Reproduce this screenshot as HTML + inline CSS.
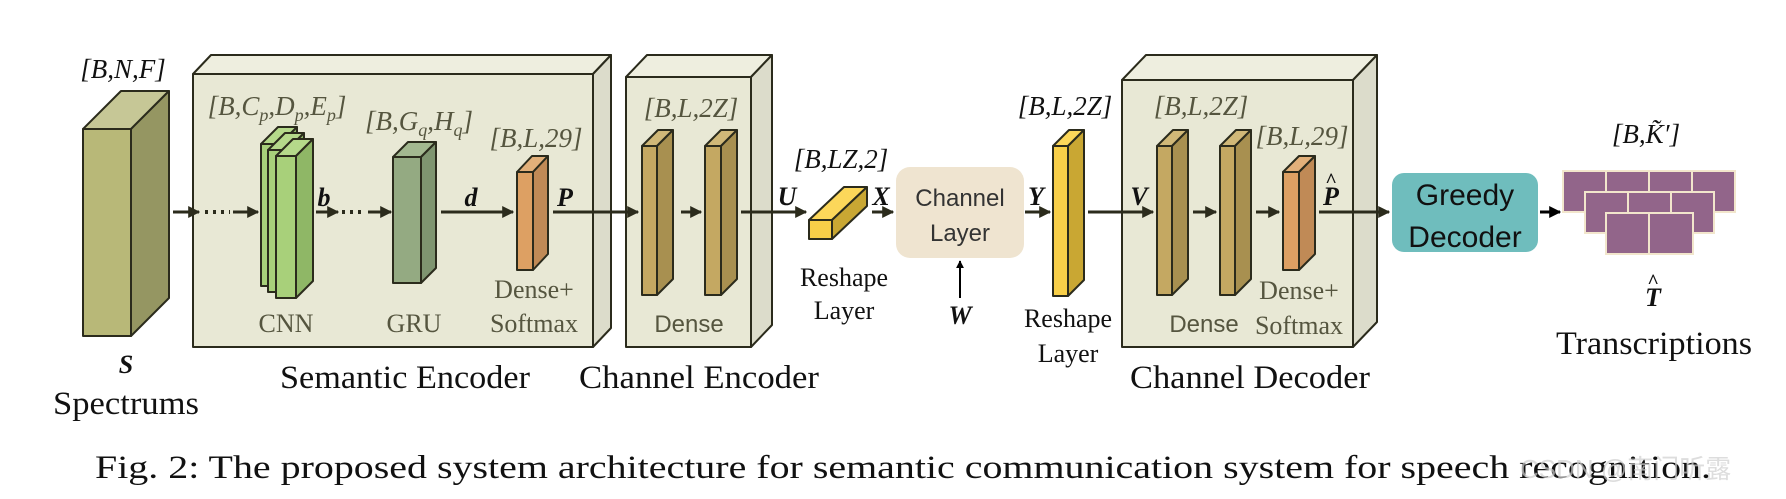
<!DOCTYPE html>
<html><head><meta charset="utf-8"><style>
html,body{margin:0;padding:0;background:#fff;}
svg{display:block;}
.s{font-family:"Liberation Serif",serif;}
.ss{font-family:"Liberation Sans",sans-serif;}
</style></head><body>
<svg width="1786" height="499" viewBox="0 0 1786 499" xmlns="http://www.w3.org/2000/svg">
<defs>
<marker id="ah" viewBox="0 0 10 10" refX="9" refY="5" markerWidth="4" markerHeight="4" orient="auto" markerUnits="strokeWidth"><path d="M0,0 L10,5 L0,10 z" fill="#2b2b1c"/></marker>
<marker id="ahk" viewBox="0 0 10 10" refX="9" refY="5" markerWidth="4" markerHeight="4" orient="auto" markerUnits="strokeWidth"><path d="M0,0 L10,5 L0,10 z" fill="#000"/></marker>
</defs>
<g stroke="#2b2b1c" stroke-width="2" stroke-linejoin="round">
<polygon points="83,129 121,91 169,91 131,129" fill="#c6c796"/>
<polygon points="131,129 169,91 169,298 131,336" fill="#959662"/>
<rect x="83" y="129" width="48" height="207" fill="#b8b878"/>
<polygon points="193,74 211,55 611,55 593,74" fill="#eeeedf"/>
<polygon points="593,74 611,55 611,328 593,347" fill="#dcdccb"/>
<rect x="193" y="74" width="400" height="273" fill="#e8e8d5"/>
<polygon points="626,77 647,55 772,55 751,77" fill="#eeeedf"/>
<polygon points="751,77 772,55 772,325 751,347" fill="#dcdccb"/>
<rect x="626" y="77" width="125" height="270" fill="#e8e8d5"/>
<polygon points="1122,80 1146,55 1377,55 1353,80" fill="#eeeedf"/>
<polygon points="1353,80 1377,55 1377,322 1353,347" fill="#dcdccb"/>
<rect x="1122" y="80" width="231" height="267" fill="#e8e8d5"/>
<polygon points="261,144 278,127 297,127 280,144" fill="#b5d98a"/>
<polygon points="280,144 297,127 297,269 280,286" fill="#8fb766"/>
<rect x="261" y="144" width="19" height="142" fill="#a8d07a"/>
<polygon points="268,150 285,133 304,133 287,150" fill="#b5d98a"/>
<polygon points="287,150 304,133 304,275 287,292" fill="#8fb766"/>
<rect x="268" y="150" width="19" height="142" fill="#a8d07a"/>
<polygon points="276,156 293,139 313,139 296,156" fill="#b5d98a"/>
<polygon points="296,156 313,139 313,281 296,298" fill="#8fb766"/>
<rect x="276" y="156" width="20" height="142" fill="#a8d07a"/>
<polygon points="393,157 408,142 436,142 421,157" fill="#a3b890"/>
<polygon points="421,157 436,142 436,268 421,283" fill="#7f9570"/>
<rect x="393" y="157" width="28" height="126" fill="#94aa82"/>
<polygon points="517,172 532,156 548,156 533,172" fill="#e2b07a"/>
<polygon points="533,172 548,156 548,254 533,270" fill="#c08a56"/>
<rect x="517" y="172" width="16" height="98" fill="#dda063"/>
<polygon points="642,146 658,130 673,130 657,146" fill="#d0b878"/>
<polygon points="657,146 673,130 673,279 657,295" fill="#a89050"/>
<rect x="642" y="146" width="15" height="149" fill="#c4a862"/>
<polygon points="705,146 721,130 737,130 721,146" fill="#d0b878"/>
<polygon points="721,146 737,130 737,279 721,295" fill="#a89050"/>
<rect x="705" y="146" width="16" height="149" fill="#c4a862"/>
<polygon points="809,220 844,187 867,187 832,220" fill="#fcd75a"/>
<polygon points="832,220 867,187 867,206 832,239" fill="#c9a733"/>
<rect x="809" y="220" width="23" height="19" fill="#f8cf48"/>
<polygon points="1053,146 1069,130 1084,130 1068,146" fill="#fcd75a"/>
<polygon points="1068,146 1084,130 1084,280 1068,296" fill="#c9a733"/>
<rect x="1053" y="146" width="15" height="150" fill="#f8cf48"/>
<polygon points="1157,146 1173,130 1188,130 1172,146" fill="#d0b878"/>
<polygon points="1172,146 1188,130 1188,279 1172,295" fill="#a89050"/>
<rect x="1157" y="146" width="15" height="149" fill="#c4a862"/>
<polygon points="1220,146 1236,130 1251,130 1235,146" fill="#d0b878"/>
<polygon points="1235,146 1251,130 1251,279 1235,295" fill="#a89050"/>
<rect x="1220" y="146" width="15" height="149" fill="#c4a862"/>
<polygon points="1283,172 1299,156 1315,156 1299,172" fill="#e2b07a"/>
<polygon points="1299,172 1315,156 1315,254 1299,270" fill="#c08a56"/>
<rect x="1283" y="172" width="16" height="98" fill="#dda063"/>
</g>
<rect x="896" y="167" width="128" height="91" rx="14" fill="#efe4d0"/>
<rect x="1392" y="173" width="146" height="79" rx="12" fill="#6fbdbd"/>
<g fill="#92658a" stroke="#f2e6cc" stroke-width="2">
<rect x="1563" y="171" width="43" height="41"/><rect x="1606" y="171" width="43" height="41"/><rect x="1649" y="171" width="43" height="41"/><rect x="1692" y="171" width="43" height="41"/>
<rect x="1585" y="192" width="43" height="41"/><rect x="1628" y="192" width="43" height="41"/><rect x="1671" y="192" width="43" height="41"/>
<rect x="1606" y="213" width="43" height="41"/><rect x="1649" y="213" width="44" height="41"/>
</g>
<g stroke="#2b2b1c" stroke-width="3" fill="none">
<line x1="173" y1="212" x2="199" y2="212" marker-end="url(#ah)"/>
<line x1="205" y1="212" x2="230" y2="212" stroke-dasharray="3,5" stroke-width="4"/>
<line x1="233" y1="212" x2="258" y2="212" marker-end="url(#ah)"/>
<line x1="316" y1="212" x2="338" y2="212" marker-end="url(#ah)"/>
<line x1="342" y1="212" x2="366" y2="212" stroke-dasharray="3,5" stroke-width="4"/>
<line x1="368" y1="212" x2="391" y2="212" marker-end="url(#ah)"/>
<line x1="441" y1="212" x2="513" y2="212" marker-end="url(#ah)"/>
<line x1="553" y1="212" x2="638" y2="212" marker-end="url(#ah)"/>
<line x1="681" y1="212" x2="701" y2="212" marker-end="url(#ah)"/>
<line x1="741" y1="212" x2="806" y2="212" marker-end="url(#ah)"/>
<line x1="872" y1="212" x2="893" y2="212" marker-end="url(#ah)"/>
<line x1="1025" y1="212" x2="1050" y2="212" marker-end="url(#ah)"/>
<line x1="1088" y1="212" x2="1153" y2="212" marker-end="url(#ah)"/>
<line x1="1193" y1="212" x2="1216" y2="212" marker-end="url(#ah)"/>
<line x1="1256" y1="212" x2="1279" y2="212" marker-end="url(#ah)"/>
<line x1="1319" y1="212" x2="1389" y2="212" marker-end="url(#ah)"/>
<line x1="1540" y1="212" x2="1560" y2="212" marker-end="url(#ahk)" stroke="#000"/>
<line x1="960" y1="298" x2="960" y2="261" marker-end="url(#ahk)" stroke="#000" stroke-width="2"/>
</g>
<g class="s" font-style="italic" font-size="27" fill="#111" text-anchor="middle">
<text x="123" y="78">[B,N,F]</text>
<text x="1065" y="115">[B,L,2Z]</text>
<text x="841" y="168">[B,LZ,2]</text>
<text x="1646" y="143">[B,K̃′]</text>
</g>
<g class="s" font-style="italic" font-size="27" fill="#55553f" text-anchor="middle">
<text x="277" y="115">[B,C<tspan font-size="18" dy="6">p</tspan><tspan dy="-6">,D</tspan><tspan font-size="18" dy="6">p</tspan><tspan dy="-6">,E</tspan><tspan font-size="18" dy="6">p</tspan><tspan dy="-6">]</tspan></text>
<text x="419" y="130">[B,G<tspan font-size="18" dy="6">q</tspan><tspan dy="-6">,H</tspan><tspan font-size="18" dy="6">q</tspan><tspan dy="-6">]</tspan></text>
<text x="536" y="147">[B,L,29]</text>
<text x="691" y="117">[B,L,2Z]</text>
<text x="1201" y="115">[B,L,2Z]</text>
<text x="1302" y="145">[B,L,29]</text>
</g>
<g class="s" font-style="italic" font-weight="bold" font-size="26" fill="#111" text-anchor="middle">
<text x="126" y="373">S</text>
<text x="324" y="206">b</text>
<text x="471" y="206">d</text>
<text x="565" y="206">P</text>
<text x="787" y="205">U</text>
<text x="881" y="205">X</text>
<text x="1036" y="205">Y</text>
<text x="1139" y="205">V</text>
<text x="1331" y="205">P</text>
<text x="1331" y="187" font-size="20">^</text>
<text x="960" y="324">W</text>
<text x="1653" y="306">T</text>
<text x="1653" y="288" font-size="20">^</text>
</g>
<g class="s" font-size="26" fill="#55553f" text-anchor="middle">
<text x="286" y="332">CNN</text>
<text x="414" y="332">GRU</text>
<text x="534" y="298">Dense+</text>
<text x="534" y="332">Softmax</text>
<text x="1299" y="299">Dense+</text>
<text x="1299" y="334">Softmax</text>
</g>
<g class="ss" font-size="24" fill="#55553f" text-anchor="middle">
<text x="689" y="332">Dense</text>
<text x="1204" y="332">Dense</text>
</g>
<g class="ss" font-size="24" fill="#333" text-anchor="middle">
<text x="960" y="206">Channel</text>
<text x="960" y="241">Layer</text>
</g>
<g class="ss" font-size="30" fill="#111" text-anchor="middle">
<text x="1465" y="205">Greedy</text>
<text x="1465" y="247">Decoder</text>
</g>
<g class="s" font-size="26" fill="#111" text-anchor="middle">
<text x="844" y="286">Reshape</text>
<text x="844" y="319">Layer</text>
<text x="1068" y="327">Reshape</text>
<text x="1068" y="362">Layer</text>
</g>
<g class="s" font-size="33" fill="#111" text-anchor="middle">
<text x="405" y="388" textLength="250" lengthAdjust="spacingAndGlyphs">Semantic Encoder</text>
<text x="699" y="388" textLength="240" lengthAdjust="spacingAndGlyphs">Channel Encoder</text>
<text x="1250" y="388" textLength="240" lengthAdjust="spacingAndGlyphs">Channel Decoder</text>
<text x="126" y="414" textLength="146" lengthAdjust="spacingAndGlyphs">Spectrums</text>
<text x="1654" y="354" textLength="196" lengthAdjust="spacingAndGlyphs">Transcriptions</text>
</g>
<text class="s" x="95" y="478" font-size="33" fill="#111" textLength="1616" lengthAdjust="spacingAndGlyphs">Fig. 2: The proposed system architecture for semantic communication system for speech recognition.</text>
<text x="1520" y="478" font-family="'Liberation Sans','Noto Sans CJK SC',sans-serif" font-size="26" fill="#cfcfcf" fill-opacity="0.7">CSDN @南门听露</text>
</svg>
</body></html>
